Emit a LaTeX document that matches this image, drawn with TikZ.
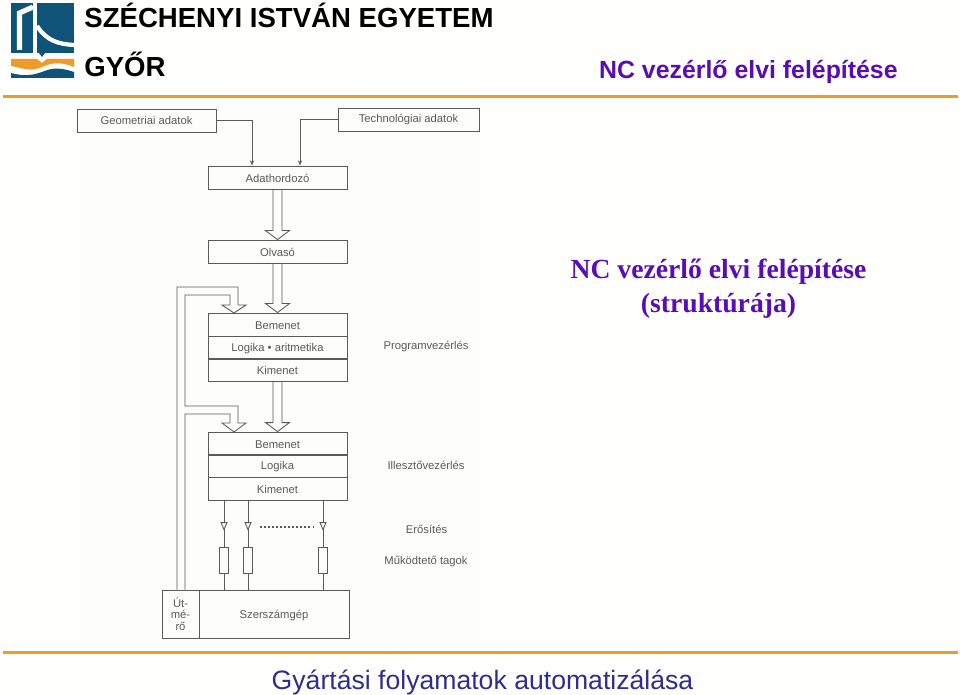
\documentclass[tikz,border=0pt]{standalone}
\usepackage{fontspec}
\setmainfont{Liberation Sans}
\newfontfamily\titleserif{Liberation Serif}
\usetikzlibrary{calc,arrows.meta}
\definecolor{slidebg}{HTML}{FFFFFD}
\definecolor{scanbg}{HTML}{FDFDFC}
\definecolor{scanink}{HTML}{5A5A5A}
\definecolor{logoblue}{HTML}{0F5478}
\definecolor{ruleorange}{HTML}{F09A28}
\definecolor{titlepurple}{HTML}{5A0DB0}
\definecolor{footnavy}{HTML}{2E2E8C}
\tikzset{
  scanline/.style={draw=scanink,line width=.5pt},
  databox/.style={scanline,minimum width=2.78cm,minimum height=.46cm,inner sep=0pt,
    text=scanink,font=\fontsize{6.4}{6.6}\selectfont},
  lowtext/.style={text height=5.4pt,text depth=0pt},
  midtext/.style={text height=5.2pt,text depth=1pt},
  sidelabel/.style={text=scanink,inner sep=0pt,font=\fontsize{6.4}{7.6}\selectfont},
  hollowarrow/.style={scanline,line join=miter},
  thinarrow/.style={scanline,-{Stealth[length=3pt,width=2.4pt]}},
  headrule/.style={ruleorange,line width=1.7pt}
}
% wide open arrow, from the bottom of one box to the top of the next
\newcommand{\widearrow}[2]{
  \draw[hollowarrow] ($(#1.south)+(-4.5,0)$) -- ($(#2.north)+(-4.5,-9)$) -- ++(-7.5,0)
    -- (#2.north) -- ++(12,-9) -- ++(-7.5,0) -- ($(#1.south)+(4.5,0)$);
}
\begin{document}
\begin{tikzpicture}[x=.02cm,y=-.02cm]
  \path[use as bounding box,fill=slidebg] (0,0) rectangle (960,695);
  \fill[scanbg] (76,103) rectangle (480,640);
  % logo
  \fill[logoblue] (11,3) rectangle (74,53);
  \fill[logoblue] (39,53) -- (45,53) -- (42,57) -- cycle;
  \draw[white,line width=2.2pt] (35,3) -- (35,53);
  \draw[white,line width=2.4pt] (37,26) .. controls (47,41) and (58,44) .. (74,45);
  \draw[white,line width=2.9pt,line join=miter] (19.5,50) -- (19.5,13) -- (33,7);
  \fill[ruleorange] (11,59) -- (37,59) -- (42,63) -- (47,59) -- (74,59) -- (74,67)
    .. controls (62,62) and (53,62) .. (42,67) .. controls (31,72) and (22,68) .. (11,66) -- cycle;
  \fill[logoblue] (11,78) -- (11,73) .. controls (22,76) and (31,76) .. (42,72)
    .. controls (53,67) and (62,68) .. (74,72) -- (74,78) -- cycle;
  % head and foot
  \node[anchor=base west,inner sep=0pt,font=\fontsize{15.7}{18}\selectfont\bfseries] (school) at (84,28) {SZÉCHENYI ISTVÁN EGYETEM};
  \node[anchor=base west,inner sep=0pt,font=\fontsize{15.7}{18}\selectfont\bfseries] (city) at (84,77) {GYŐR};
  \node[anchor=base east,inner sep=0pt,text=titlepurple,font=\fontsize{14.15}{17}\selectfont\bfseries] (headtitle) at (898,79) {NC vezérlő elvi felépítése};
  \draw[headrule] (3,96.5) -- (958,96.5);
  \draw[headrule] (3,652.5) -- (958,652.5);
  \node[anchor=base,inner sep=0pt,text=titlepurple,font=\fontsize{15.75}{18}\selectfont\titleserif\bfseries] (maintitle1) at (718.5,278.5) {NC vezérlő elvi felépítése};
  \node[anchor=base,inner sep=0pt,text=titlepurple,font=\fontsize{15.75}{18}\selectfont\titleserif\bfseries] (maintitle2) at (718.5,312.5) {(struktúrája)};
  \node[anchor=base,inner sep=0pt,text=footnavy,font=\fontsize{15.15}{18}\selectfont] (foot) at (482.5,689) {Gyártási folyamatok automatizálása};
  % input boxes
  \node[databox] (geom) at (146.5,120.5) {Geometriai adatok};
  \node[databox,minimum width=2.82cm] (tech) at (408.5,119.5) {Technológiai adatok};
  \node[databox,lowtext] (carrier) at (277.5,177.5) {Adathordozó};
  \node[databox,lowtext] (reader) at (277.5,251.5) {Olvasó};
  \draw[thinarrow] (geom.east) -| (carrier.north -| 252,0);
  \draw[thinarrow] (tech.west) -| (carrier.north -| 300,0);
  \widearrow{carrier}{reader}
  % program control
  \node[databox,lowtext] (input1) at (277.5,324.5) {Bemenet};
  \node[databox,midtext] (logic1) at (277.5,347.5) {Logika • aritmetika};
  \node[databox] (output1) at (277.5,370) {Kimenet};
  \widearrow{reader}{input1}
  % interface control
  \node[databox,lowtext] (input2) at (277.5,443.5) {Bemenet};
  \node[databox,midtext] (logic2) at (277.5,466) {Logika};
  \node[databox] (output2) at (277.5,489) {Kimenet};
  \widearrow{output1}{input2}
  % machine
  \node[databox,minimum width=.74cm,minimum height=.96cm,align=center] (meter) at (180.5,614) {Út-\\mé-\\rő};
  \node[databox,lowtext,minimum width=3cm,minimum height=.96cm] (machine) at (274,614) {Szerszámgép};
  % feedback loop
  \draw[hollowarrow] (meter.north -| 177,0) -- (177,287) -- (238,287) -- (238,305) -- (246,305)
    -- (234,313) -- (222,305) -- (230,305) -- (230,295) -- (185,295) -- (185,406) -- (238,406)
    -- (238,423) -- (246,423) -- (234,432) -- (222,423) -- (230,423) -- (230,414) -- (185,414)
    -- (meter.north -| 185,0);
  % amplifiers and actuators
  \foreach \i/\xx in {1/224,2/248,3/323}{
    \node[scanline,minimum width=.19cm,minimum height=.52cm,inner sep=0pt] (act\i) at (\xx,560) {};
    \draw[scanline] (output2.south -| act\i) -- (act\i.north);
    \draw[scanline] (act\i.south) -- (machine.north -| act\i);
    \draw[scanline,fill=scanbg] (act\i.north) ++(-3,-24) -- ++(6,0) -- ++(-3,7) -- cycle;
  }
  \coordinate (dotsl) at (260,527);
  \coordinate (dotsr) at (313,527);
  \draw[scanink,line width=.8pt,dash pattern=on .9pt off 1.4pt] (dotsl) -- (dotsr);
  % side labels
  \node[sidelabel] (lab1) at (426,347) {Programvezérlés};
  \node[sidelabel] (lab2) at (426,465) {Illesztővezérlés};
  \node[sidelabel] (lab3) at (426.5,529) {Erősítés};
  \node[sidelabel] (lab4) at (426,562) {Működtető tagok};
\end{tikzpicture}
\end{document}
